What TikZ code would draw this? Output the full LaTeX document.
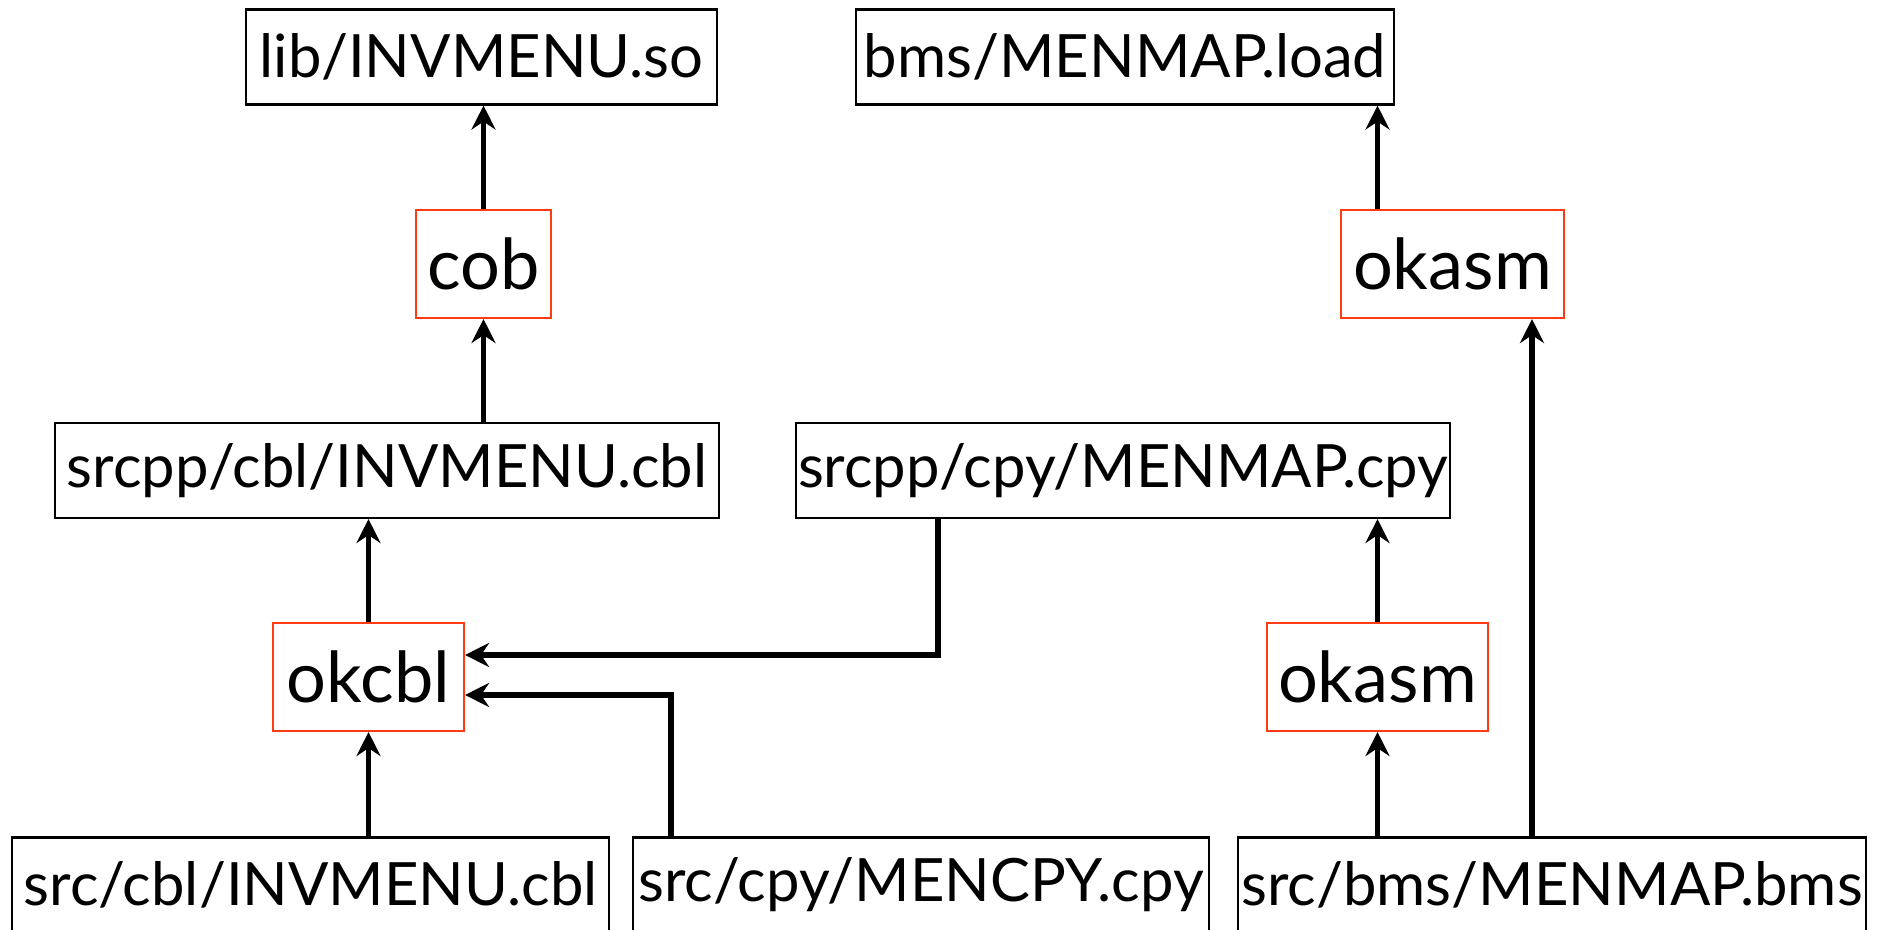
\documentclass[tikz,border=0pt]{standalone}
\usepackage{fontspec}
\setmainfont{Lato}
\usetikzlibrary{arrows.meta,calc}
\definecolor{toolred}{RGB}{255,59,20}
\tikzset{
  file/.style={draw=black, line width=0.6pt, inner sep=0pt, minimum height=0.95cm, font=\fontsize{17}{19}\selectfont},
  tool/.style={draw=toolred, line width=0.6pt, inner sep=0pt, minimum height=1.08cm, font=\fontsize{20}{22}\selectfont},
  dep/.style={line width=1.6pt, -{Stealth[length=2.4mm, width=2.4mm, inset=0.8mm]}}
}
\begin{document}
\begin{tikzpicture}
			%%%%% FRAME %%%%%
			\useasboundingbox (0, 0) rectangle (18.79, 9.30);
			\clip (0, 0) rectangle (18.79, 9.30);
			
			%%%%% TARGETS %%%%%
			\node[file, minimum width=4.71cm] (lib) at (4.815, 8.73) {lib/INVMENU.so};
			\node[file, minimum width=5.38cm] (load) at (11.25, 8.73) {bms/MENMAP.load};
			
			\node[tool, minimum width=1.35cm] (cob) at (4.835, 6.66) {cob};
			\node[tool, minimum width=2.23cm] (asmtop) at (14.525, 6.66) {okasm};
			
			%%%%% PREPROCESSED %%%%%
			\node[file, minimum width=6.64cm] (ppcbl) at (3.87, 4.595) {srcpp/cbl/INVMENU.cbl};
			\node[file, minimum width=6.54cm] (ppcpy) at (11.23, 4.595) {srcpp/cpy/MENMAP.cpy};
			
			\node[tool, minimum width=1.91cm] (okcbl) at (3.685, 2.53) {okcbl};
			\node[tool, minimum width=2.21cm] (asmbot) at (13.775, 2.53) {okasm};
			
			%%%%% SOURCES %%%%%
			\node[file, minimum width=5.97cm] (srccbl) at (3.105, 0.45) {src/cbl/INVMENU.cbl};
			\node[file, minimum width=5.76cm] (srccpy) at (9.21, 0.45) {src/cpy/MENCPY.cpy};
			\node[file, minimum width=6.28cm] (srcbms) at (15.52, 0.45) {src/bms/MENMAP.bms};
			
			\coordinate (cpydrop) at (9.38, 0);
			\coordinate (cpyrise) at (6.71, 0);
			\coordinate (bmsrise) at (15.32, 0);
			\coordinate (cpyin) at ($(okcbl.east)+(0, 0.22)$);
			\coordinate (mencpyin) at ($(okcbl.east)+(0, -0.18)$);
			
			%%%%% DEPENDENCIES %%%%%
			\draw[dep] (cob.north) -- (lib.south -| cob.north);
			\draw[dep] (ppcbl.north -| cob.south) -- (cob.south);
			\draw[dep] (okcbl.north) -- (ppcbl.south -| okcbl.north);
			\draw[dep] (srccbl.north -| okcbl.south) -- (okcbl.south);
			
			\draw[dep] (ppcpy.south -| cpydrop) -- (cpyin -| cpydrop) -- (cpyin);
			\draw[dep] (srccpy.north -| cpyrise) -- (mencpyin -| cpyrise) -- (mencpyin);
			
			\draw[dep] (asmtop.north -| asmbot.north) -- (load.south -| asmbot.north);
			\draw[dep] (srcbms.north -| bmsrise) -- (asmtop.south -| bmsrise);
			\draw[dep] (asmbot.north) -- (ppcpy.south -| asmbot.north);
			\draw[dep] (srcbms.north -| asmbot.south) -- (asmbot.south);
			
			%%%%% END %%%%%
		\end{tikzpicture}
\end{document}
